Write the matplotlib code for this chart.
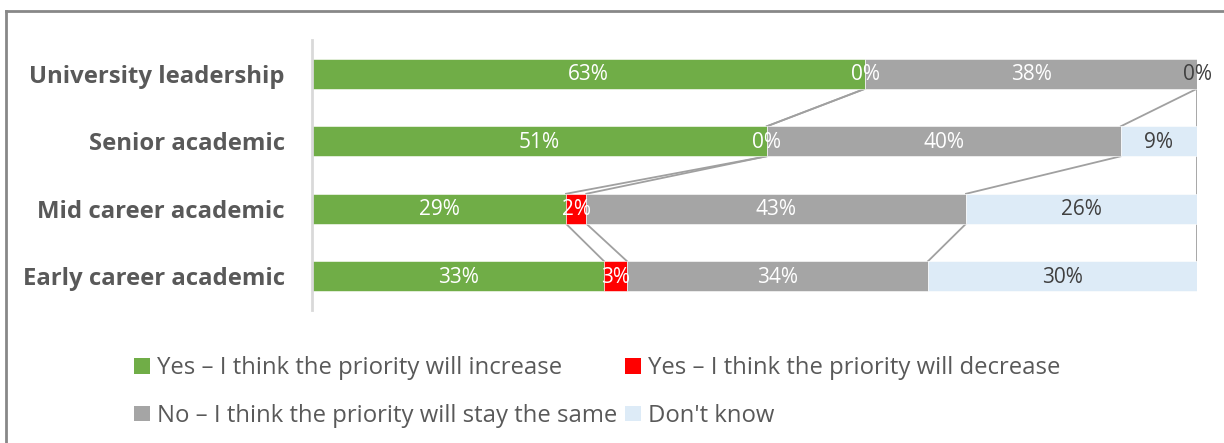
import matplotlib.pyplot as plt
from matplotlib.patches import Patch
from matplotlib.lines import Line2D
import numpy as np

plt.rcParams['font.family'] = ['Open Sans', 'DejaVu Sans']

# survey answers, percent of respondents per group
groups = ["University leadership", "Senior academic", "Mid career academic", "Early career academic"]
increase = [62.5, 51.4, 28.7, 33.0]
decrease = [0.0, 0.0, 2.3, 2.6]
same = [37.5, 40.0, 42.9, 34.0]
dont_know = [0.0, 8.6, 26.1, 30.4]

series_names = ["Yes \u2013 I think the priority will increase",
                "Yes \u2013 I think the priority will decrease",
                "No \u2013 I think the priority will stay the same",
                "Don't know"]
colors = ["#70AD47", "#FF0000", "#A5A5A5", "#DDEBF7"]
label_colors = ["white", "white", "white", "#404040"]

def pct(v):
    # round half up like a spreadsheet does
    return "%d%%" % int(np.floor(v + 0.5))

fig = plt.figure(figsize=(12.24, 4.43), dpi=100)
ax = fig.add_axes([312/1224, 1-310/443, 885/1224, 270/443])

y = np.arange(len(groups))
bar_h = 0.444
series = [increase, decrease, same, dont_know]
left = np.zeros(len(groups))
ends = []
handles = []
for vals, col, lc, name in zip(series, colors, label_colors, series_names):
    vals = np.array(vals)
    ax.barh(y, vals, left=left, height=bar_h, color=col, edgecolor="white", linewidth=0.4)
    for yi, l, v in zip(y, left, vals):
        ax.text(l + v/2, yi + 0.015, pct(v), ha="center", va="center", color=lc, fontsize=15)
    left = left + vals
    ends.append(left.copy())
    handles.append(Patch(facecolor=col, edgecolor="none", label=name))

# series lines between neighbouring bars
for e in ends:
    for i in range(len(groups) - 1):
        ax.plot([e[i], e[i+1]], [y[i] + bar_h/2, y[i+1] - bar_h/2],
                color="#A0A0A0", lw=1.3, zorder=0)

ax.set_xlim(0, 100)
ax.set_ylim(len(groups) - 0.5, -0.5)
ax.set_yticks(y)
ax.set_yticklabels(groups, fontsize=17.2, fontweight="bold", color="#595959")
ax.tick_params(axis="y", length=0, pad=19.5)
ax.set_xticks([])
for s in ["top", "right", "bottom"]:
    ax.spines[s].set_visible(False)
ax.spines["left"].set_color("#D9D9D9")
ax.spines["left"].set_linewidth(2)

order = [0, 2, 1, 3]
fig.legend([handles[i] for i in order], [series_names[i] for i in order],
           ncol=2, loc="upper left", bbox_to_anchor=(134/1224, 1-356/443),
           frameon=False, fontsize=17.2, labelcolor="#595959",
           handlelength=0.65, handleheight=0.65, handletextpad=0.3,
           columnspacing=0.35, labelspacing=1.0, borderpad=0, borderaxespad=0)

# chart frame
fig.add_artist(Line2D([5.5/1224, 5.5/1224], [0, 1-10.5/443], color="#888888", lw=2))
fig.add_artist(Line2D([5.5/1224, 1], [1-10.5/443, 1-10.5/443], color="#888888", lw=2))

fig.savefig("out.png", dpi=100)
